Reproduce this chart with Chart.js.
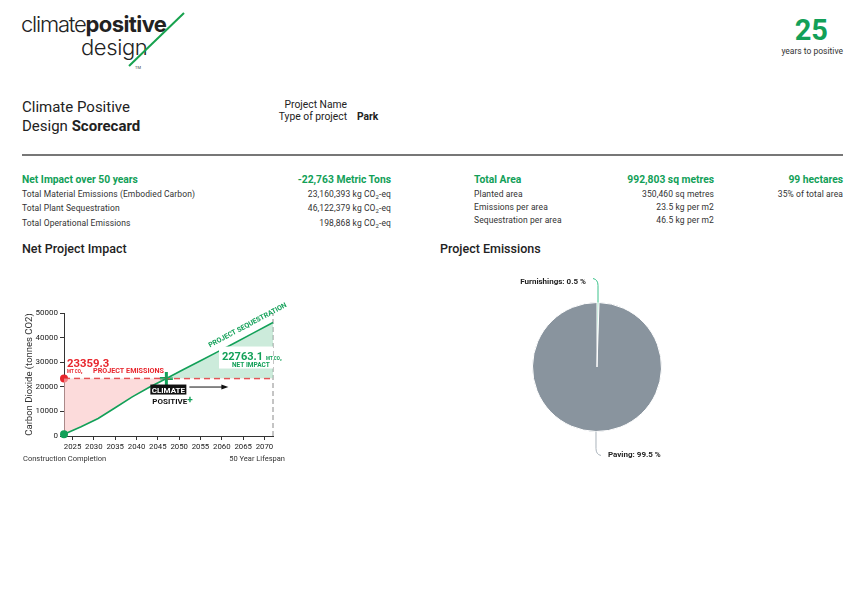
<!DOCTYPE html>
<html lang="en">
<head>
  <meta charset="UTF-8">
  <title>Climate Positive Design Scorecard</title>
  <script src="https://cdn.jsdelivr.net/npm/chart.js"></script>
  <style>
    body { margin: 0; width: 865px; height: 611px; position: relative; overflow: hidden; background: #fff;
           font-family: Roboto, "Noto Sans", sans-serif; color: #222; }
    .t { position: absolute; white-space: nowrap; line-height: 1; }
    .green { color: #12a058; }
    .row { font-size: 8.5px; color: #333; letter-spacing: 0.1px; }
    .head { font-size: 10.3px; font-weight: 700; }
    sub { font-size: 70%; vertical-align: -2px; line-height: 0; }
    .logo { font-family: Inter, Roboto, sans-serif; font-size: 22px; font-weight: 300; letter-spacing: -1.2px;
            color: #222; line-height: 0.85; }
    .chart-box { position: absolute; }
  </style>
</head>
<body>
  <!-- logo -->
  <div class="t logo" data-b="32" style="left:21px">climate<b style="font-weight:700;letter-spacing:-0.6px">positive</b></div>
  <div class="t logo" data-b="55" style="left:81px;letter-spacing:-0.4px">design</div>
  <svg style="position:absolute;left:0;top:0" width="200" height="80">
    <line x1="184" y1="13" x2="129" y2="66" stroke="#17a24e" stroke-width="2"/>
    <text x="135" y="69" font-size="4" font-family="Roboto" fill="#444">TM</text>
  </svg>

  <div class="t green" data-b="40" style="right:37px;font-size:29px;font-weight:700">25</div>
  <div class="t" data-b="54" style="right:22px;font-size:8.5px;color:#333">years to positive</div>

  <div class="t" data-b="112" style="left:22px;font-size:15px">Climate Positive</div>
  <div class="t" data-b="131" style="left:22px;font-size:15px">Design <b>Scorecard</b></div>

  <div class="t" data-b="108" style="right:518px;font-size:10.3px">Project Name</div>
  <div class="t" data-b="119.5" style="right:518px;font-size:10.3px">Type of project</div>
  <div class="t" data-b="119.5" style="left:357px;font-size:10.3px;font-weight:700">Park</div>

  <div style="position:absolute;left:22px;top:154px;width:821px;height:1.5px;background:#777"></div>

  <!-- left table -->
  <div class="t head green" data-b="183" style="left:22px">Net Impact over 50 years</div>
  <div class="t head green" data-b="183" style="right:474px">-22,763 Metric Tons</div>
  <div class="t row" data-b="196.5" style="left:22px">Total Material Emissions (Embodied Carbon)</div>
  <div class="t row" data-b="196.5" style="right:474px">23,160,393 kg CO<sub>2</sub>-eq</div>
  <div class="t row" data-b="211" style="left:22px">Total Plant Sequestration</div>
  <div class="t row" data-b="211" style="right:474px">46,122,379 kg CO<sub>2</sub>-eq</div>
  <div class="t row" data-b="226" style="left:22px">Total Operational Emissions</div>
  <div class="t row" data-b="226" style="right:474px">198,868 kg CO<sub>2</sub>-eq</div>

  <!-- right table -->
  <div class="t head green" data-b="183" style="left:474px">Total Area</div>
  <div class="t head green" data-b="183" style="right:151px">992,803 sq metres</div>
  <div class="t head green" data-b="183" style="right:22px">99 hectares</div>
  <div class="t row" data-b="196.5" style="left:474px">Planted area</div>
  <div class="t row" data-b="196.5" style="right:151px">350,460 sq metres</div>
  <div class="t row" data-b="196.5" style="right:22px">35% of total area</div>
  <div class="t row" data-b="209.5" style="left:474px">Emissions per area</div>
  <div class="t row" data-b="209.5" style="right:151px">23.5 kg per m2</div>
  <div class="t row" data-b="223" style="left:474px">Sequestration per area</div>
  <div class="t row" data-b="223" style="right:151px">46.5 kg per m2</div>

  <div class="t" data-b="253" style="left:22px;font-size:12.5px;font-weight:500">Net Project Impact</div>
  <div class="t" data-b="253" style="left:440px;font-size:12.5px;font-weight:500">Project Emissions</div>

  <div class="chart-box" style="left:20px;top:295px;width:270px;height:160px">
    <canvas id="impactChart" width="270" height="160"></canvas>
  </div>
  <div class="t" data-b="461" style="left:23px;font-size:7.5px;color:#333">Construction Completion</div>
  <div class="t" data-b="461" style="right:580px;font-size:7.5px;color:#333">50 Year Lifespan</div>

  <div class="chart-box" style="left:480px;top:260px;width:240px;height:210px">
    <canvas id="emissionsChart" width="240" height="210"></canvas>
  </div>

  <script>
    // net impact chart (tonnes CO2)
    const seqYears  = [2023, 2027, 2031, 2035, 2039, 2043, 2047, 2051, 2055, 2059, 2063, 2067, 2072];
    const seqValues = [700, 3800, 7100, 11500, 15900, 19800, 23400, 27000, 30600, 34200, 37800, 41500, 46122];
    const projectEmissions = 23359.3;
    const netImpact = 22763.1;
    const positiveYear = 2047;
    const lifespanEnd = 2072;
    const xTicks = [2025, 2030, 2035, 2040, 2045, 2050, 2055, 2060, 2065, 2070];
    const yMax = 50000;
    const yStep = 5000;

    // project emissions pie
    const pieLabels = ['Furnishings', 'Paving'];
    const pieValues = [0.5, 99.5];

    const green = '#12a058';
    const red = '#e8262d';

    // put each text block on its baseline
    document.querySelectorAll('[data-b]').forEach(el => {
      const mark = document.createElement('span');
      mark.style.cssText = 'display:inline-block;width:0;height:0;vertical-align:baseline';
      el.appendChild(mark);
      el.style.top = (parseFloat(el.dataset.b) - mark.offsetTop) + 'px';
    });

    Chart.defaults.font.family = 'Roboto';
    Chart.defaults.color = '#222';

    const impactLabels = {
      id: 'impactLabels',
      afterDatasetsDraw(chart) {
        const { ctx, chartArea } = chart;
        const x = chart.scales.x, y = chart.scales.y;
        const sx = x.getPixelForValue(seqYears[0]);
        const ey = y.getPixelForValue(projectEmissions);
        const cx = x.getPixelForValue(positiveYear);
        const r = chartArea.right;
        ctx.save();
        ctx.textBaseline = 'alphabetic';
        ctx.textAlign = 'left';

        ctx.fillStyle = red;
        ctx.font = 'bold 11.3px Roboto';
        ctx.fillText(projectEmissions.toFixed(1), sx + 3, ey - 12);
        ctx.font = 'bold 4.5px Roboto';
        ctx.fillText('MT CO\u2082', sx + 3, ey - 6);
        ctx.font = 'bold 7.2px Roboto';
        ctx.fillText('PROJECT EMISSIONS', sx + 29, ey - 6);

        ctx.fillStyle = '#fff';
        ctx.fillRect(r - 54, ey - 32, 54, 22);
        ctx.fillStyle = green;
        ctx.font = 'bold 11px Roboto';
        ctx.fillText(netImpact.toFixed(1), r - 51, ey - 19);
        const nw = ctx.measureText(netImpact.toFixed(1)).width;
        ctx.font = 'bold 4.5px Roboto';
        ctx.fillText('MT CO\u2082', r - 51 + nw + 3, ey - 19);
        ctx.font = 'bold 6.5px Roboto';
        ctx.fillText('NET IMPACT', r - 41, ey - 12);

        ctx.save();
        ctx.translate(r - 63, ey - 31);
        ctx.rotate(-28 * Math.PI / 180);
        ctx.font = 'bold 7px Roboto';
        ctx.fillText('PROJECT SEQUESTRATION', 0, 0);
        ctx.restore();

        ctx.fillStyle = '#111';
        ctx.fillRect(cx - 16, ey + 6, 36, 10);
        ctx.fillStyle = '#fff';
        ctx.font = 'bold 8px Roboto';
        ctx.textAlign = 'center';
        ctx.fillText('CLIMATE', cx + 2, ey + 14);
        ctx.textAlign = 'left';
        ctx.fillStyle = '#111';
        ctx.fillText('POSITIVE', cx - 14, ey + 25);
        const pw = ctx.measureText('POSITIVE').width;
        ctx.fillStyle = green;
        ctx.font = 'bold 10px Roboto';
        ctx.fillText('+', cx - 14 + pw, ey + 24);

        ctx.strokeStyle = '#111';
        ctx.lineWidth = 1;
        ctx.beginPath();
        ctx.moveTo(cx + 23, ey + 8.5);
        ctx.lineTo(cx + 56, ey + 8.5);
        ctx.stroke();
        ctx.fillStyle = '#111';
        ctx.beginPath();
        ctx.moveTo(cx + 62, ey + 8.5);
        ctx.lineTo(cx + 55, ey + 6);
        ctx.lineTo(cx + 55, ey + 11);
        ctx.closePath();
        ctx.fill();
        ctx.restore();
      }
    };

    new Chart(document.getElementById('impactChart'), {
      type: 'line',
      data: {
        datasets: [
          {
            label: 'Project Sequestration',
            data: seqYears.map((yr, i) => ({ x: yr, y: seqValues[i] })),
            borderColor: green,
            borderWidth: 1.6,
            fill: { target: 1, above: 'rgba(170, 222, 195, 0.6)', below: 'rgba(250, 195, 195, 0.6)' },
            pointRadius: c => c.dataIndex === 0 ? 4 : 0,
            pointBackgroundColor: green,
            pointBorderWidth: 0,
            clip: false
          },
          {
            label: 'Project Emissions',
            data: seqYears.map(yr => ({ x: yr, y: projectEmissions })),
            borderColor: red,
            borderWidth: 1.5,
            borderDash: [6, 4],
            fill: false,
            pointRadius: c => c.dataIndex === 0 ? 4 : 0,
            pointBackgroundColor: red,
            pointBorderWidth: 0,
            clip: false
          },
          {
            label: 'Climate Positive',
            data: [{ x: positiveYear, y: projectEmissions }],
            showLine: false,
            pointStyle: 'cross',
            pointRadius: 6.5,
            pointBorderWidth: 3,
            pointBorderColor: green,
            clip: false
          },
          {
            label: '50 Year Lifespan',
            data: [{ x: lifespanEnd, y: 0 }, { x: lifespanEnd, y: yMax }],
            borderColor: '#8a8a8a',
            borderWidth: 1,
            borderDash: [5, 3],
            pointRadius: 0,
            clip: false
          }
        ]
      },
      options: {
        responsive: false,
        animation: false,
        layout: { padding: { top: 18, right: 17 } },
        plugins: { legend: { display: false }, tooltip: { enabled: false } },
        scales: {
          x: {
            type: 'linear',
            min: seqYears[0],
            max: lifespanEnd,
            afterBuildTicks: axis => { axis.ticks = xTicks.map(v => ({ value: v })); },
            afterFit: axis => { axis.height = 19; },
            ticks: { callback: v => String(v), font: { size: 7.8 }, padding: 2, maxRotation: 0, autoSkip: false },
            grid: { drawOnChartArea: false, tickLength: 4, color: '#333' },
            border: { color: '#333' }
          },
          y: {
            min: 0,
            max: yMax,
            afterFit: axis => { axis.width = 44; },
            ticks: { stepSize: yStep, callback: v => String(v), font: { size: 8 }, padding: 2 },
            grid: { drawOnChartArea: false, tickLength: 4, color: '#333' },
            border: { color: '#333' },
            title: { display: true, text: 'Carbon Dioxide (tonnes CO2)', font: { size: 9.5 }, color: '#333' }
          }
        }
      },
      plugins: [impactLabels]
    });

    const pieLeaders = {
      id: 'pieLeaders',
      afterDatasetsDraw(chart) {
        const { ctx } = chart;
        const colors = ['#3cc28b', '#aab3bb'];
        chart.getDatasetMeta(0).data.forEach((arc, i) => {
          const p = arc.getProps(['x', 'y', 'startAngle', 'endAngle', 'outerRadius'], true);
          const mid = (p.startAngle + p.endAngle) / 2;
          const dir = Math.sin(mid) < 0 ? -1 : 1;
          const x0 = p.x + Math.cos(mid) * p.outerRadius;
          const y0 = p.y + Math.sin(mid) * p.outerRadius;
          ctx.save();
          ctx.strokeStyle = colors[i];
          ctx.lineWidth = 1;
          ctx.beginPath();
          ctx.moveTo(x0, y0);
          ctx.lineTo(x0, y0 + dir * 17);
          ctx.quadraticCurveTo(x0, y0 + dir * 23, x0 + dir * 5, y0 + dir * 24);
          ctx.stroke();
          ctx.fillStyle = '#222';
          ctx.font = 'bold 8px Roboto';
          ctx.textBaseline = 'middle';
          ctx.textAlign = dir < 0 ? 'right' : 'left';
          ctx.fillText(pieLabels[i] + ': ' + pieValues[i] + ' %', x0 + dir * 12, y0 + dir * 22 + 1.5);
          ctx.restore();
        });
      }
    };

    new Chart(document.getElementById('emissionsChart'), {
      type: 'pie',
      data: {
        labels: pieLabels,
        datasets: [{
          data: pieValues,
          backgroundColor: ['#3cc28b', '#89949e'],
          borderColor: '#fff',
          borderWidth: 1,
          hoverOffset: 0
        }]
      },
      options: {
        responsive: false,
        animation: false,
        layout: { padding: { left: 52, top: 42, right: 58, bottom: 38 } },
        plugins: { legend: { display: false }, tooltip: { enabled: false } }
      },
      plugins: [pieLeaders]
    });
  </script>
</body>
</html>
